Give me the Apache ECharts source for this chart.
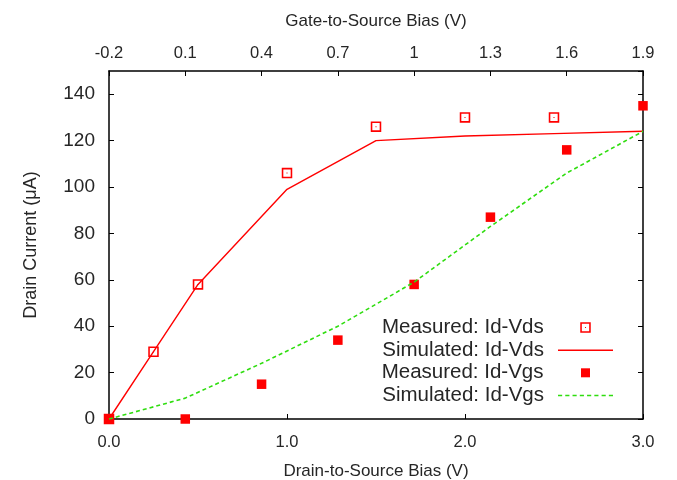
<!DOCTYPE html>
<html>
<head>
<meta charset="utf-8">
<script src="https://cdn.jsdelivr.net/npm/echarts@6/dist/echarts.min.js"></script>
<style>
html,body{margin:0;padding:0;background:#fff;}
#chart{width:677px;height:480px;}
</style>
</head>
<body>
<div id="chart"></div>
<script>
// Data
const vdsMeasX = [0.0, 0.25, 0.5, 1.0, 1.5, 2.0, 2.5];
const vdsMeasY = [0, 29, 58, 106, 126, 130, 130];
const vdsSimX = [0.0, 0.25, 0.5, 1.0, 1.5, 2.0, 2.5, 3.0];
const vdsSimY = [0, 29, 58, 99, 120, 122, 123, 124];
const vgsX = [-0.2, 0.1, 0.4, 0.7, 1.0, 1.3, 1.6, 1.9];
const vgsMeasY = [0, 0, 15, 34, 58, 87, 116, 135];
const vgsSimY = [0, 9, 24, 40, 59, 83, 106, 124];
const seriesNames = ['Measured: Id-Vds', 'Simulated: Id-Vds', 'Measured: Id-Vgs', 'Simulated: Id-Vgs'];

const pair = (xs, ys) => xs.map((x, i) => [x, ys[i]]);
const FONT = '"Liberation Sans", Arial, Helvetica, sans-serif';
const TXT = '#262626';
const RED = '#ff0000';
const GREEN = '#2fdd0f';
const openSq = 'path://M0,0H20V20H0Z M3,3V17H17V3Z M9,9H11V11H9Z';

// legend icons
const solidLineIcon = 'path://M0,0H55V1.4H0Z';
let dashPath = '';
for (let x = 0; x < 55; x += 7) { const e = Math.min(x + 4, 55); dashPath += 'M' + x + ',0H' + e + 'V1.5H' + x + 'Z '; }
const dashLineIcon = 'path://' + dashPath.trim();

const axisLineStyle = {show: true, onZero: false, lineStyle: {color: '#000', width: 1.5}};
const tickStyle = {show: true, inside: true, length: 5, lineStyle: {color: '#000', width: 1}};

const legendRows = [327, 349.7, 372.3, 395];
const legendIcons = [openSq, solidLineIcon, 'rect', dashLineIcon];
const legendW = [10.5, 55, 9, 55];
const legendH = [10.5, 10, 9, 10];
const legendRight = [86.25, 64, 87, 64];
const legendPad = [31.5, 9, 32.5, 9];
const legends = seriesNames.map((n, i) => ({
  data: [{name: n, icon: legendIcons[i]}],
  orient: 'horizontal',
  align: 'right',
  right: legendRight[i],
  top: legendRows[i] - 10,
  padding: 0,
  itemWidth: legendW[i],
  itemHeight: legendH[i],
  selectedMode: false,
  itemStyle: {opacity: 1},
  textStyle: {fontFamily: FONT, fontSize: 20.5, color: TXT, lineHeight: 20, padding: [0, legendPad[i], 0, 0]}
}));

const option = {
  animation: false,
  backgroundColor: '#fff',
  textStyle: {fontFamily: FONT},
  grid: {left: 109, right: 34, top: 71, bottom: 61, containLabel: false, outerBoundsMode: 'none'},
  legend: legends,
  xAxis: [
    {
      type: 'value', position: 'bottom', min: 0, max: 3, interval: 1,
      name: 'Drain-to-Source Bias (V)', nameLocation: 'middle', nameGap: 44,
      nameTextStyle: {fontFamily: FONT, fontSize: 17, color: TXT},
      axisLine: axisLineStyle, axisTick: tickStyle,
      axisLabel: {fontFamily: FONT, fontSize: 16.5, color: TXT, margin: 15, formatter: v => v.toFixed(1)},
      splitLine: {show: false}
    },
    {
      type: 'value', position: 'top', min: -0.2, max: 1.9, interval: 0.3,
      name: 'Gate-to-Source Bias (V)', nameLocation: 'middle', nameGap: 41,
      nameTextStyle: {fontFamily: FONT, fontSize: 17, color: TXT},
      axisLine: axisLineStyle, axisTick: tickStyle,
      axisLabel: {fontFamily: FONT, fontSize: 16.5, color: TXT, margin: 9, formatter: v => String(Math.round(v * 10) / 10)},
      splitLine: {show: false}
    }
  ],
  yAxis: [
    {
      type: 'value', position: 'left', min: 0, max: 150, interval: 20,
      name: 'Drain Current (\u03bcA)', nameLocation: 'middle', nameGap: 69,
      nameTextStyle: {fontFamily: FONT, fontSize: 18, color: TXT},
      axisLine: axisLineStyle, axisTick: tickStyle,
      axisLabel: {fontFamily: FONT, fontSize: 19, color: TXT, margin: 14, showMaxLabel: false,
        formatter: v => (v > 140 ? '' : String(v))},
      splitLine: {show: false}
    },
    {
      type: 'value', position: 'right', min: 0, max: 150, interval: 20,
      axisLine: axisLineStyle, axisTick: tickStyle,
      axisLabel: {show: false}, splitLine: {show: false}
    }
  ],
  series: [
    {
      name: seriesNames[0], type: 'scatter', xAxisIndex: 0, yAxisIndex: 0,
      data: pair(vdsMeasX, vdsMeasY), symbol: openSq, symbolSize: 10.5,
      itemStyle: {color: RED, opacity: 1}, clip: false, z: 2
    },
    {
      name: seriesNames[1], type: 'line', xAxisIndex: 0, yAxisIndex: 0,
      data: pair(vdsSimX, vdsSimY), symbol: 'none',
      lineStyle: {color: RED, width: 1.4}, itemStyle: {color: RED}, clip: false, z: 3
    },
    {
      name: seriesNames[2], type: 'scatter', xAxisIndex: 1, yAxisIndex: 0,
      data: pair(vgsX, vgsMeasY), symbol: 'rect', symbolSize: 9.5,
      itemStyle: {color: RED, opacity: 1}, clip: false, z: 4
    },
    {
      name: seriesNames[3], type: 'line', xAxisIndex: 1, yAxisIndex: 0,
      data: pair(vgsX, vgsSimY), symbol: 'none',
      lineStyle: {color: GREEN, width: 1.6, type: [4, 3]}, itemStyle: {color: GREEN}, clip: false, z: 5
    }
  ]
};

const chart = echarts.init(document.getElementById('chart'), null, {renderer: 'canvas'});
chart.setOption(option);
</script>
</body>
</html>
